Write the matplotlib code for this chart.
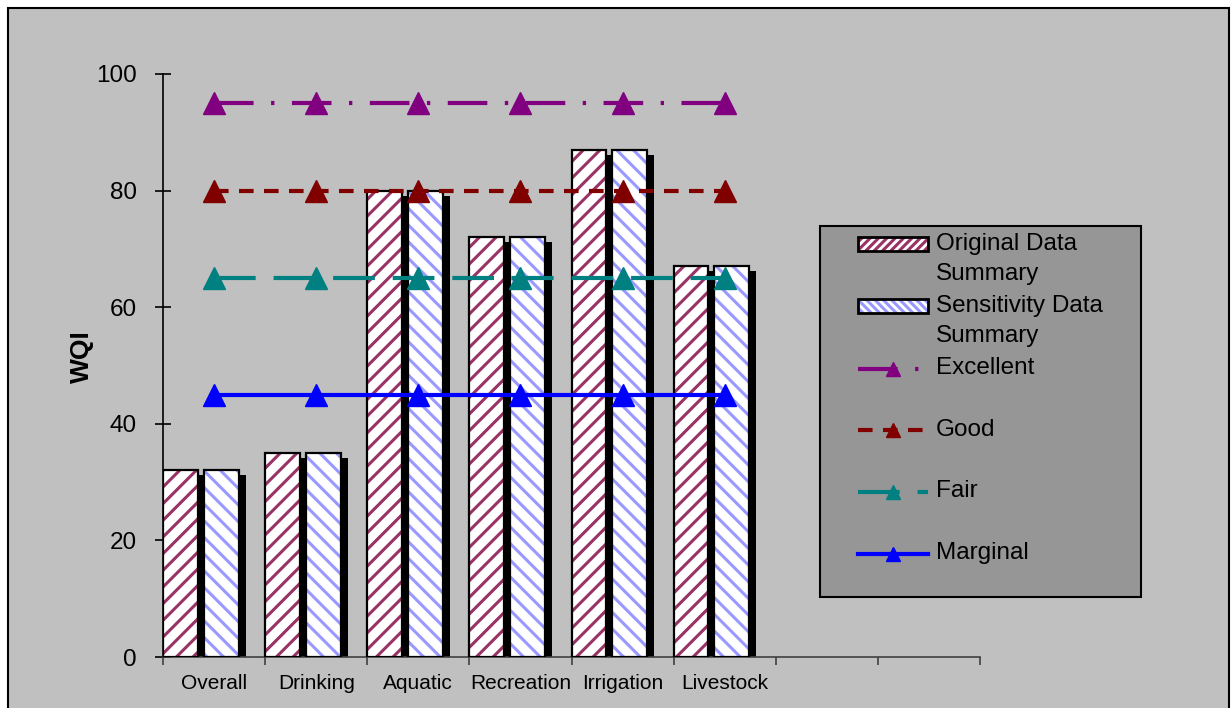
import matplotlib
matplotlib.use('Agg')
import matplotlib.pyplot as plt
import matplotlib.patheffects as pe
from matplotlib.artist import Artist
from matplotlib.patches import Rectangle, Patch
from matplotlib.legend_handler import HandlerBase, HandlerTuple, HandlerLine2D
from matplotlib.transforms import ScaledTranslation

plt.rcParams['font.family'] = ['Liberation Sans', 'DejaVu Sans']
plt.rcParams['hatch.linewidth'] = 2.2

# data
categories = ['Overall', 'Drinking', 'Aquatic', 'Recreation', 'Irrigation', 'Livestock']
original = [32, 35, 80, 72, 87, 67]
sensitivity = [32, 35, 80, 72, 87, 67]
excellent = [95, 95, 95, 95, 95, 95]
good = [80, 80, 80, 80, 80, 80]
fair = [65, 65, 65, 65, 65, 65]
marginal = [45, 45, 45, 45, 45, 45]
n_slots = 8

W, H = 1232, 708
fig = plt.figure(figsize=(W / 100, H / 100), dpi=100, facecolor='white')

# grey chart area with black border
fig.patches.append(Rectangle((8 / W, -0.02), 1221 / W, 1 - 8 / H + 0.02,
                             transform=fig.transFigure, facecolor='#C0C0C0',
                             edgecolor='black', linewidth=1.5, zorder=-10))

ax = fig.add_axes([163 / W, 1 - 657 / H, (980 - 163) / W, (657 - 74) / H])
ax.set_facecolor('none')

x = list(range(len(categories)))
bw = 0.34
shadow = [pe.SimplePatchShadow(offset=(5, -3.6), shadow_rgbFace='black', alpha=1.0, hatch=None),
          pe.Normal()]

# hatched fills (with drop shadow), then black outlines
ax.bar(x, original, bw, align='edge', color='white', edgecolor='#993366',
       linewidth=0, hatch='//', path_effects=shadow, zorder=2)
ax.bar(x, original, bw, align='edge', fill=False, edgecolor='black',
       linewidth=1.6, zorder=3)
x2 = [i + 0.40 for i in x]
ax.bar(x2, sensitivity, bw, align='edge', color='white', edgecolor='#9999FF',
       linewidth=0, hatch='\\\\', path_effects=shadow, zorder=2)
ax.bar(x2, sensitivity, bw, align='edge', fill=False, edgecolor='black',
       linewidth=1.6, zorder=3)

xc = [i + 0.5 for i in x]
lw = 3
ms = 16
ax.plot(xc, excellent, color='#800080', lw=lw, dashes=(9.5, 4.2, 0.8, 4.2),
        marker='^', ms=ms, zorder=5, label='Excellent')
ax.plot(xc, good, color='#800000', lw=lw, dashes=(3.5, 2.5),
        marker='^', ms=ms, zorder=5, label='Good')
ax.plot(xc, fair, color='#008080', lw=lw, dashes=(10, 4.3),
        marker='^', ms=ms, zorder=5, label='Fair')
ax.plot(xc, marginal, color='#0000FF', lw=lw,
        marker='^', ms=ms, zorder=5, label='Marginal')

ax.set_xlim(0, n_slots)
ax.set_ylim(0, 100)
ax.set_yticks([0, 20, 40, 60, 80, 100])
ax.tick_params(axis='y', direction='inout', length=12, width=1.2, pad=13,
               labelsize=17.5)
ax.set_xticks(range(n_slots + 1))
ax.set_xticklabels([])
ax.set_xticks(xc, minor=True)
ax.set_xticklabels(categories, minor=True)
ax.tick_params(axis='x', which='major', direction='out', length=6, width=1.2,
               color='#404040')
ax.tick_params(axis='x', which='minor', length=0, pad=12, labelsize=15)
for s in ['top', 'right']:
    ax.spines[s].set_visible(False)
ax.spines['left'].set_linewidth(1.2)
ax.spines['bottom'].set_linewidth(1.2)
ax.spines['bottom'].set_color('#404040')

fig.text(82 / W, 1 - 357 / H, 'WQI', rotation=90, fontsize=19,
         fontweight='bold', ha='center', va='center')

# legend box
fig.patches.append(Rectangle((820 / W, 1 - 597 / H), 321 / W, 371 / H,
                             transform=fig.transFigure, facecolor='#969696',
                             edgecolor='black', linewidth=1.5, zorder=2))

lfs = 17.5
shift = ScaledTranslation(0, 10.6 / 72, fig.dpi_scale_trans)


class TopLine(HandlerBase):
    # draw handle level with the first line of a two-line label
    def __init__(self, inner):
        super().__init__()
        self.inner = inner

    def legend_artist(self, legend, orig_handle, fontsize, handlebox):
        art = self.inner.legend_artist(legend, orig_handle, fontsize, handlebox)
        for a in handlebox.get_children():
            a.set_transform(Artist.get_transform(a) + shift)
        return art


h_orig = (Patch(facecolor='white', edgecolor='#993366', hatch='////', linewidth=0),
          Patch(fill=False, edgecolor='black', linewidth=2))
h_sens = (Patch(facecolor='white', edgecolor='#9999FF', hatch='\\\\\\\\', linewidth=0),
          Patch(fill=False, edgecolor='black', linewidth=2))
h_lines = ax.get_lines()
handles = [h_orig, h_sens] + list(h_lines)
labels = ['Original Data\nSummary', 'Sensitivity Data\nSummary',
          'Excellent\n ', 'Good\n ', 'Fair\n ', 'Marginal\n ']
hmap = {h_orig: TopLine(HandlerTuple(ndivide=1)),
        h_sens: TopLine(HandlerTuple(ndivide=1))}
for ln in h_lines:
    hmap[ln] = TopLine(HandlerLine2D(numpoints=1))

leg = fig.legend(handles, labels, handler_map=hmap, loc='upper left',
                 bbox_to_anchor=(858 / W, 1 - 233 / H), borderpad=0,
                 borderaxespad=0, frameon=False, fontsize=lfs,
                 handlelength=2.88, handleheight=0.5, handletextpad=0.33,
                 labelspacing=0.42, markerscale=10 / 16)
for t in leg.get_texts():
    t.set_linespacing(1.45)
leg.set_zorder(6)

fig.savefig('out.png', dpi=100, facecolor='white')
